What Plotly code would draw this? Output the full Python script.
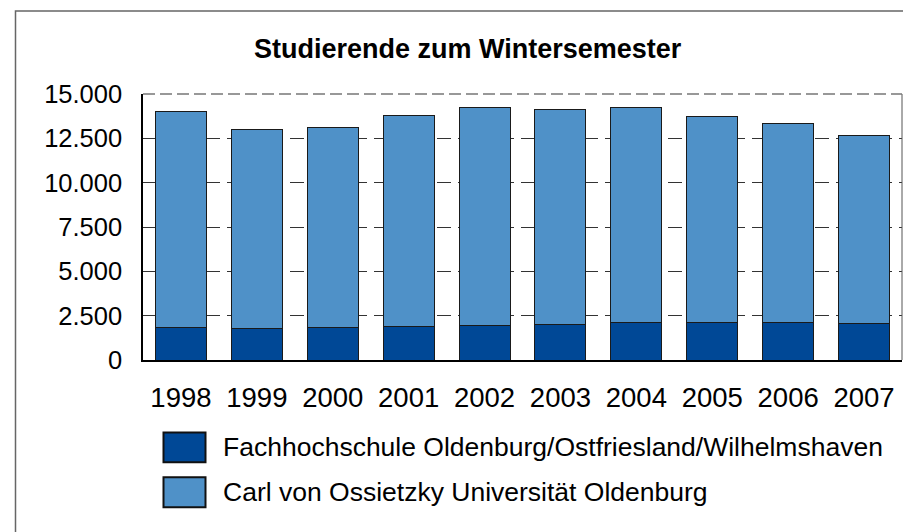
import plotly.graph_objects as go

years = ["1998", "1999", "2000", "2001", "2002", "2003", "2004", "2005", "2006", "2007"]
fh_values = [1854, 1798, 1835, 1891, 1948, 2004, 2097, 2097, 2116, 2060]
uni_values = [12135, 11180, 11273, 11912, 12265, 12135, 12135, 11611, 11236, 10599]
series_names = ["Fachhochschule Oldenburg/Ostfriesland/Wilhelmshaven",
                "Carl von Ossietzky Universität Oldenburg"]
y_ticks = [0, 2500, 5000, 7500, 10000, 12500, 15000]
title_text = "Studierende zum Wintersemester"

W, H = 903, 532
L, R, T, B = 143, 1, 93.6, 172
FONT = "Liberation Sans, Arial, sans-serif"
DARK = "rgb(0,72,150)"
LIGHT = "rgb(79,145,200)"

pw = W - L - R
ph = H - T - B


def px_x(x):
    return (x - L) / pw


def px_y(y):
    return (H - B - y) / ph


fig = go.Figure()
fig.add_trace(go.Bar(x=years, y=fh_values, name=series_names[0],
                     marker=dict(color=DARK, line=dict(color="#1a1a1a", width=1))))
fig.add_trace(go.Bar(x=years, y=uni_values, name=series_names[1],
                     marker=dict(color=LIGHT, line=dict(color="#1a1a1a", width=1))))

shapes = []
# outer frame
shapes.append(dict(type="rect", xref="paper", yref="paper",
                   x0=px_x(15.5), x1=px_x(915), y0=px_y(545), y1=px_y(10.5),
                   line=dict(color="#666", width=1.5), layer="below"))
# right border of plot
shapes.append(dict(type="line", xref="paper", yref="paper",
                   x0=1, x1=1, y0=0, y1=1, line=dict(color="#555", width=1)))
# top border of plot
shapes.append(dict(type="line", xref="paper", yref="paper",
                   x0=0, x1=1, y0=1, y1=1, line=dict(color="#777", width=1.5, dash="12px,5px")))

annotations = []
legend_rows = [(447.5, DARK), (492.5, LIGHT)]
for (cy, col), name in zip(legend_rows, series_names):
    shapes.append(dict(type="rect", xref="paper", yref="paper",
                       x0=px_x(163.5), x1=px_x(205.5), y0=px_y(cy + 15), y1=px_y(cy - 15),
                       fillcolor=col, line=dict(color="#111", width=2)))
    annotations.append(dict(xref="paper", yref="paper", x=px_x(221), y=px_y(cy),
                            xanchor="left", yanchor="middle", showarrow=False,
                            text=name, font=dict(family=FONT, size=26.5, color="black")))

annotations.append(dict(xref="paper", yref="paper", x=px_x(468), y=px_y(49),
                        xanchor="center", yanchor="middle", showarrow=False,
                        text="<b>" + title_text + "</b>",
                        font=dict(family=FONT, size=27, color="black")))

fig.update_layout(
    width=W, height=H,
    margin=dict(l=L, r=R, t=T, b=B, pad=0),
    barmode="stack", bargap=0.328,
    plot_bgcolor="white", paper_bgcolor="white",
    showlegend=False,
    separators=",.",
    shapes=shapes, annotations=annotations,
    font=dict(family=FONT, color="black"),
    xaxis=dict(showline=True, linecolor="black", linewidth=1.5, showgrid=False,
               ticks="", tickfont=dict(family=FONT, size=27.5, color="black"),
               ticklabelstandoff=12, fixedrange=True),
    yaxis=dict(range=[0, 15000], tickvals=y_ticks, tickformat=",d",
               showline=True, linecolor="black", linewidth=1.5,
               showgrid=True, gridcolor="#333", gridwidth=1, griddash="14px,7px",
               zeroline=False, ticks="",
               tickfont=dict(family=FONT, size=25.5, color="black"),
               ticklabelstandoff=14, fixedrange=True),
)

fig.write_html("out.html", config={"displayModeBar": False},
               post_script="document.body.style.margin='0';document.body.style.overflow='hidden';")
